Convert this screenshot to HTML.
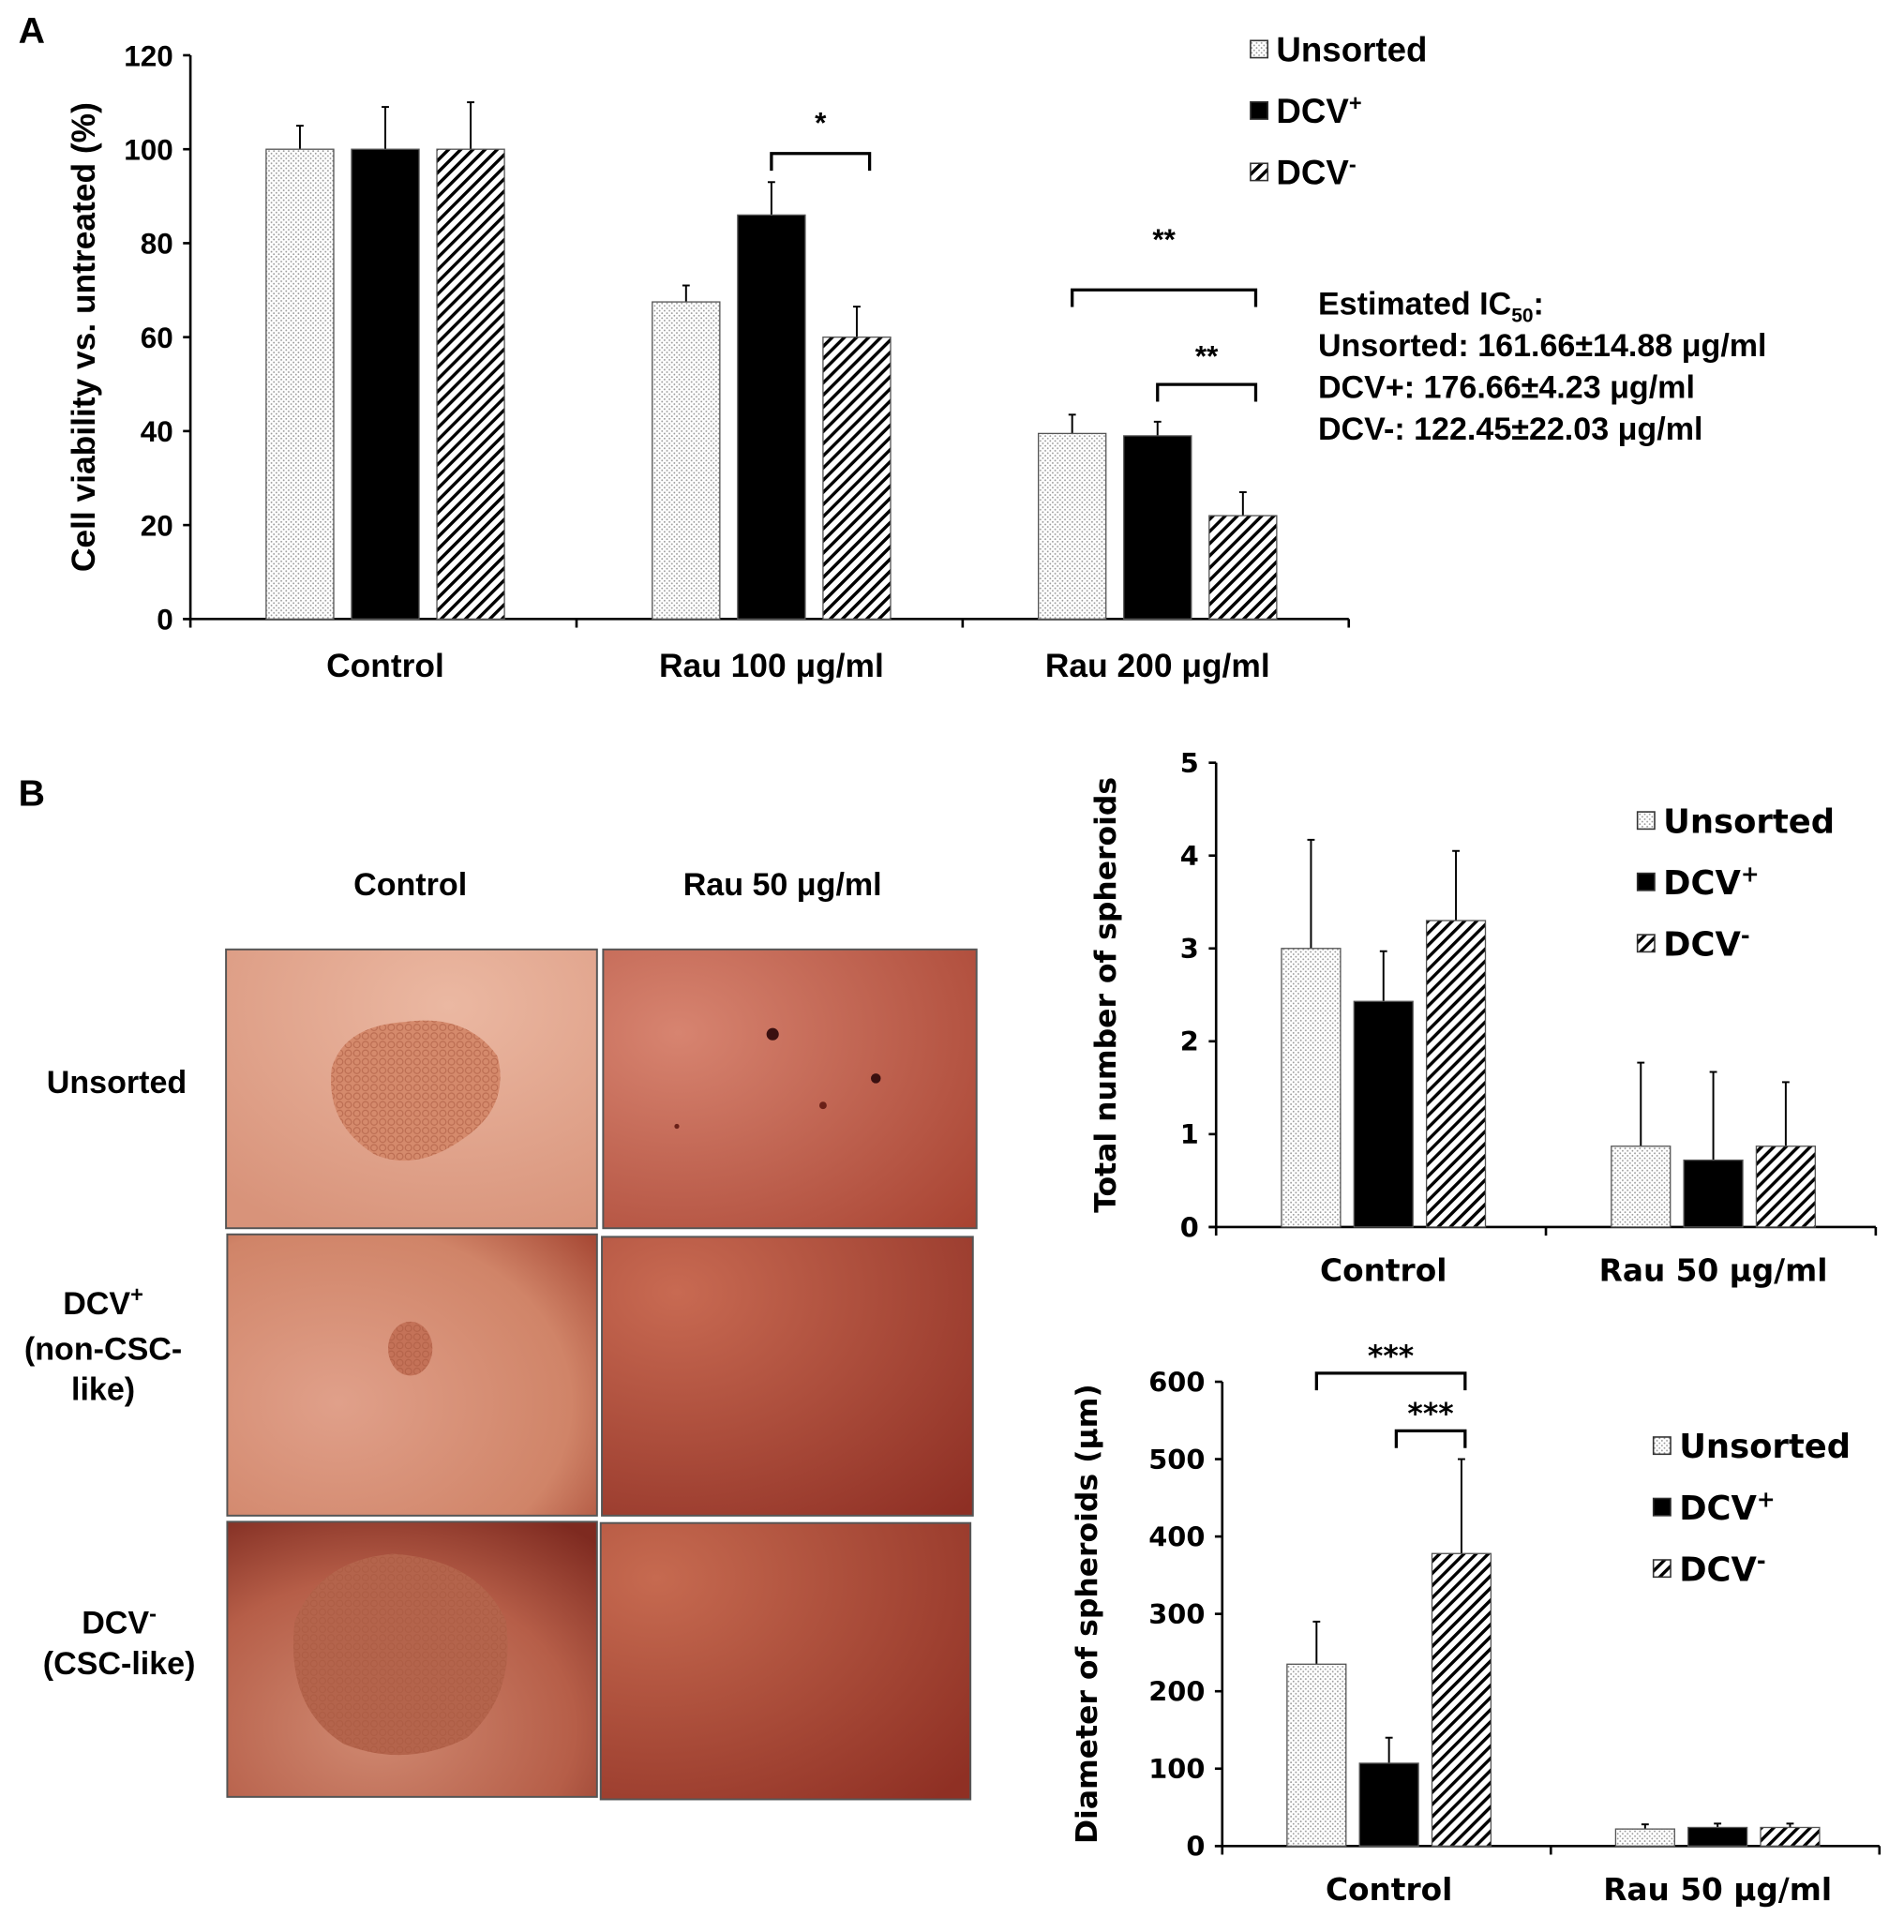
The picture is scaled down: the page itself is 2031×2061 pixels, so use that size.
<!DOCTYPE html>
<html><head><meta charset="utf-8"><style>
html,body{margin:0;padding:0;background:#fff;}
svg{display:block;}
text{font-family:"Liberation Sans",sans-serif;font-weight:bold;fill:#000;}
.dv text{font-family:"DejaVu Sans","Liberation Sans",sans-serif;}
</style></head><body>
<svg id="fig" width="2031" height="2061" viewBox="0 0 1550 1573" preserveAspectRatio="none" xmlns="http://www.w3.org/2000/svg">
<defs>
<pattern id="dots" width="4" height="4" patternUnits="userSpaceOnUse"><rect width="4" height="4" fill="#fff"/><circle cx="1" cy="1" r="0.7" fill="#999"/><circle cx="3" cy="3" r="0.7" fill="#999"/></pattern>
<pattern id="hatch" width="7" height="7" patternUnits="userSpaceOnUse" patternTransform="rotate(45)"><rect width="7" height="7" fill="#fff"/><rect width="2.6" height="7" fill="#000"/></pattern>
<pattern id="cells" width="7" height="7" patternUnits="userSpaceOnUse"><circle cx="3.5" cy="3.5" r="2.6" fill="none" stroke="#a8583f" stroke-width="0.9" opacity="0.6"/></pattern>
<radialGradient id="g1" cx="0.6" cy="0.2" r="0.9"><stop offset="0" stop-color="#ebb8a2"/><stop offset="1" stop-color="#d8937a"/></radialGradient>
<radialGradient id="g2" cx="0.2" cy="0.3" r="1.1"><stop offset="0" stop-color="#d78470"/><stop offset="1" stop-color="#a6402f"/></radialGradient>
<radialGradient id="g3" cx="0.3" cy="0.6" r="0.9"><stop offset="0" stop-color="#e0a08a"/><stop offset="0.7" stop-color="#d08468"/><stop offset="1" stop-color="#a84a36"/></radialGradient>
<radialGradient id="g4" cx="0.2" cy="0.2" r="1.1"><stop offset="0" stop-color="#c86a52"/><stop offset="1" stop-color="#8e2f24"/></radialGradient>
<radialGradient id="g5" cx="0.4" cy="0.75" r="0.9"><stop offset="0" stop-color="#d08a72"/><stop offset="0.6" stop-color="#b65e48"/><stop offset="1" stop-color="#7e2a20"/></radialGradient>
<radialGradient id="g6" cx="0.15" cy="0.2" r="1.1"><stop offset="0" stop-color="#c66a50"/><stop offset="1" stop-color="#8f3024"/></radialGradient>
</defs>

<text x="15" y="35" font-size="30">A</text>
<text x="15" y="656" font-size="30">B</text>

<g id="chartA"></g>
<g id="chartB1" class="dv"></g>
<g id="chartB2" class="dv"></g>

<g font-size="26">
<text x="1073" y="256" font-size="26">Estimated IC<tspan font-size="16" dy="6">50</tspan><tspan dy="-6">:</tspan></text>
<text x="1073" y="290" font-size="26">Unsorted: 161.66±14.88 μg/ml</text>
<text x="1073" y="324" font-size="26">DCV+: 176.66±4.23 μg/ml</text>
<text x="1073" y="358" font-size="26">DCV-: 122.45±22.03 μg/ml</text>
</g>

<g>
<text x="334" y="729" font-size="26" text-anchor="middle">Control</text>
<text x="637" y="729" font-size="26" text-anchor="middle">Rau 50 μg/ml</text>
<text x="95" y="890" font-size="26" text-anchor="middle">Unsorted</text>
<text x="84" y="1070" font-size="26" text-anchor="middle">DCV<tspan font-size="18" dy="-10">+</tspan></text>
<text x="84" y="1107" font-size="26" text-anchor="middle">(non-CSC-</text>
<text x="84" y="1140" font-size="26" text-anchor="middle">like)</text>
<text x="97" y="1330" font-size="26" text-anchor="middle">DCV<tspan font-size="18" dy="-10">-</tspan></text>
<text x="97" y="1363" font-size="26" text-anchor="middle">(CSC-like)</text>

<rect x="184" y="773" width="302" height="227" fill="url(#g1)" stroke="#555" stroke-width="1.5"/>
<path d="M270 870 Q280 835 330 832 Q380 825 405 860 Q415 900 380 925 Q340 955 305 940 Q265 915 270 870Z" fill="#d58a6c"/>
<path d="M270 870 Q280 835 330 832 Q380 825 405 860 Q415 900 380 925 Q340 955 305 940 Q265 915 270 870Z" fill="url(#cells)"/>
<rect x="491" y="773" width="304" height="227" fill="url(#g2)" stroke="#555" stroke-width="1.5"/>
<circle cx="629" cy="842" r="5" fill="#3a1010"/><circle cx="713" cy="878" r="4" fill="#3a1010"/><circle cx="670" cy="900" r="3" fill="#6a2018"/><circle cx="551" cy="917" r="2" fill="#6a2018"/>
<rect x="185" y="1005" width="301" height="229" fill="url(#g3)" stroke="#555" stroke-width="1.5"/>
<ellipse cx="334" cy="1098" rx="18" ry="22" fill="#c47258"/>
<ellipse cx="334" cy="1098" rx="18" ry="22" fill="url(#cells)"/>
<rect x="490" y="1007" width="302" height="227" fill="url(#g4)" stroke="#555" stroke-width="1.5"/>
<rect x="185" y="1239" width="301" height="224" fill="url(#g5)" stroke="#555" stroke-width="1.5"/>
<path d="M240 1320 Q260 1270 320 1265 Q390 1270 412 1320 Q420 1380 380 1415 Q330 1440 280 1420 Q232 1390 240 1320Z" fill="#b4644c"/>
<path d="M240 1320 Q260 1270 320 1265 Q390 1270 412 1320 Q420 1380 380 1415 Q330 1440 280 1420 Q232 1390 240 1320Z" fill="url(#cells)"/>
<rect x="489" y="1240" width="301" height="225" fill="url(#g6)" stroke="#555" stroke-width="1.5"/>
</g>
</svg>
<script>
// ---- Panel A data ----
const aCategories = ["Control", "Rau 100 μg/ml", "Rau 200 μg/ml"];
const aUnsorted = [100, 67.5, 39.5];
const aUnsortedErr = [5, 3.5, 4];
const aDcvPlus = [100, 86, 39];
const aDcvPlusErr = [9, 7, 3];
const aDcvMinus = [100, 60, 22];
const aDcvMinusErr = [10, 6.5, 5];
const aTicks = [0, 20, 40, 60, 80, 100, 120];
// ---- Panel B1 data ----
const b1Categories = ["Control", "Rau 50 μg/ml"];
const b1Unsorted = [3, 0.87];
const b1UnsortedErr = [1.17, 0.9];
const b1DcvPlus = [2.43, 0.72];
const b1DcvPlusErr = [0.54, 0.95];
const b1DcvMinus = [3.3, 0.87];
const b1DcvMinusErr = [0.75, 0.69];
const b1Ticks = [0, 1, 2, 3, 4, 5];
// ---- Panel B2 data ----
const b2Categories = ["Control", "Rau 50 μg/ml"];
const b2Unsorted = [235, 22];
const b2UnsortedErr = [55, 6];
const b2DcvPlus = [107, 24];
const b2DcvPlusErr = [33, 5];
const b2DcvMinus = [378, 24];
const b2DcvMinusErr = [122, 5];
const b2Ticks = [0, 100, 200, 300, 400, 500, 600];

const NS = "http://www.w3.org/2000/svg";
function mk(parent, tag, attrs, txt) {
  const e = document.createElementNS(NS, tag);
  for (const k in attrs) e.setAttribute(k, attrs[k]);
  if (txt !== undefined) e.textContent = txt;
  parent.appendChild(e);
  return e;
}
const fills = ["url(#dots)", "#000", "url(#hatch)"];
const sNames = ["unsorted", "dcv-plus", "dcv-minus"];

function chart(g, cfg) {
  const y = v => cfg.y0 - (v - cfg.ymin) / (cfg.ymax - cfg.ymin) * (cfg.y0 - cfg.ytop);
  const groupW = (cfg.xEnd - cfg.x0) / cfg.cats.length;
  const gc = i => cfg.x0 + (i + 0.5) * groupW + cfg.shift;
  let ax = mk(g, "line", {x1: cfg.x0, y1: cfg.ytop, x2: cfg.x0, y2: cfg.y0, stroke: "#000", "stroke-width": 2});
  
  
  let bx = mk(g, "line", {x1: cfg.x0 - 6, y1: cfg.y0, x2: cfg.xEnd, y2: cfg.y0, stroke: "#000", "stroke-width": 2});
  
  
  cfg.ticks.forEach(t => {
    mk(g, "line", {x1: cfg.x0 - 6, y1: y(t), x2: cfg.x0, y2: y(t), stroke: "#000", "stroke-width": 2});
    const tl = mk(g, "text", {x: cfg.x0 - 14, y: y(t) + cfg.fs * 0.36, "font-size": cfg.fs, "text-anchor": "end"}, t);
    
    
  });
  for (let i = 0; i <= cfg.cats.length; i++) {
    const xx = cfg.x0 + i * groupW;
    mk(g, "line", {x1: xx, y1: cfg.y0, x2: xx, y2: cfg.y0 + 7, stroke: "#000", "stroke-width": 2});
  }
  cfg.cats.forEach((c, i) => {
    const cx = gc(i);
    const cl = mk(g, "text", {x: cx, y: cfg.y0 + cfg.labDy, "font-size": cfg.lfs, "text-anchor": "middle"}, c);
    
    
    cfg.series.forEach((s, j) => {
      const bxL = cx + (j - 1) * (cfg.bw + cfg.gap) - cfg.bw / 2;
      const top = y(s[i]);
      const eTop = y(s[i] + cfg.errs[j][i]);
      const bc = bxL + cfg.bw / 2;
      mk(g, "line", {x1: bc, y1: top, x2: bc, y2: eTop, stroke: "#000", "stroke-width": 1.5});
      mk(g, "line", {x1: bc - 3, y1: eTop, x2: bc + 3, y2: eTop, stroke: "#000", "stroke-width": 1.5});
      const r = mk(g, "rect", {x: bxL, y: top, width: cfg.bw, height: cfg.y0 - top, fill: fills[j], stroke: "#555", "stroke-width": 1});
      
      
    });
  });
  const yt = mk(g, "text", {x: cfg.titleX, y: (cfg.ytop + cfg.y0) / 2, "font-size": cfg.tfs, "text-anchor": "middle", transform: "rotate(-90 " + cfg.titleX + " " + (cfg.ytop + cfg.y0) / 2 + ")"}, cfg.title);
  
  
  const labels = ["Unsorted", "DCV", "DCV"];
  const sups = ["", "+", "-"];
  labels.forEach((l, j) => {
    const ly = cfg.legY + j * cfg.legGap;
    mk(g, "rect", {x: cfg.legX, y: ly - 7, width: 14, height: 14, fill: fills[j], stroke: "#333", "stroke-width": 1.2});
    const t = mk(g, "text", {x: cfg.legX + 21, y: ly + 10, "font-size": cfg.legFs});
    
    
    t.textContent = l;
    if (sups[j]) mk(t, "tspan", {"font-size": 18, dy: -10}, sups[j]);
  });
  (cfg.brackets || []).forEach(b => {
    const x1 = gc(b.c) + (b.s1 - 1) * (cfg.bw + cfg.gap);
    const x2 = gc(b.c) + (b.s2 - 1) * (cfg.bw + cfg.gap);
    const p = mk(g, "path", {d: `M${x1} ${b.y + 14} V${b.y} H${x2} V${b.y + 14}`, fill: "none", stroke: "#000", "stroke-width": 2.5});
    
    
    mk(g, "text", {x: (x1 + x2) / 2, y: b.sy, "font-size": 24, "text-anchor": "middle"}, b.label);
  });
}

chart(document.getElementById("chartA"), {
  cats: aCategories, series: [aUnsorted, aDcvPlus, aDcvMinus], errs: [aUnsortedErr, aDcvPlusErr, aDcvMinusErr],
  ticks: aTicks, ymin: 0, ymax: 120, x0: 155, xEnd: 1098, y0: 504, ytop: 45, bw: 55, gap: 14.5, fs: 24, lfs: 27, tfs: 27, labDy: 47, shift: 1.5,
  title: "Cell viability vs. untreated (%)", titleX: 77, legX: 1018, legY: 40, legGap: 50, legFs: 28,
  brackets: [{c: 1, s1: 1, s2: 2.15, y: 125, sy: 108, label: "*"}, {c: 2, s1: 0, s2: 2.15, y: 236, sy: 203, label: "**"}, {c: 2, s1: 1.0, s2: 2.15, y: 313, sy: 298, label: "**"}]
});
chart(document.getElementById("chartB1"), {
  cats: b1Categories, series: [b1Unsorted, b1DcvPlus, b1DcvMinus], errs: [b1UnsortedErr, b1DcvPlusErr, b1DcvMinusErr],
  ticks: b1Ticks, ymin: 0, ymax: 5, x0: 990, xEnd: 1527, y0: 999, ytop: 621, bw: 48, gap: 11, fs: 22, lfs: 25, tfs: 24, labDy: 44, shift: 2,
  title: "Total number of spheroids", titleX: 908, legX: 1333, legY: 668, legGap: 50, legFs: 27,
  brackets: []
});
chart(document.getElementById("chartB2"), {
  cats: b2Categories, series: [b2Unsorted, b2DcvPlus, b2DcvMinus], errs: [b2UnsortedErr, b2DcvPlusErr, b2DcvMinusErr],
  ticks: b2Ticks, ymin: 0, ymax: 600, x0: 995, xEnd: 1530, y0: 1503, ytop: 1125, bw: 48, gap: 11, fs: 22, lfs: 25, tfs: 24, labDy: 44, shift: 2,
  title: "Diameter of spheroids (μm)", titleX: 893, legX: 1346, legY: 1177, legGap: 50, legFs: 27,
  brackets: [{c: 0, s1: 0, s2: 2.05, y: 1118, sy: 1112, label: "***"}, {c: 0, s1: 1.1, s2: 2.05, y: 1165, sy: 1159, label: "***"}]
});
</script>
</body></html>
